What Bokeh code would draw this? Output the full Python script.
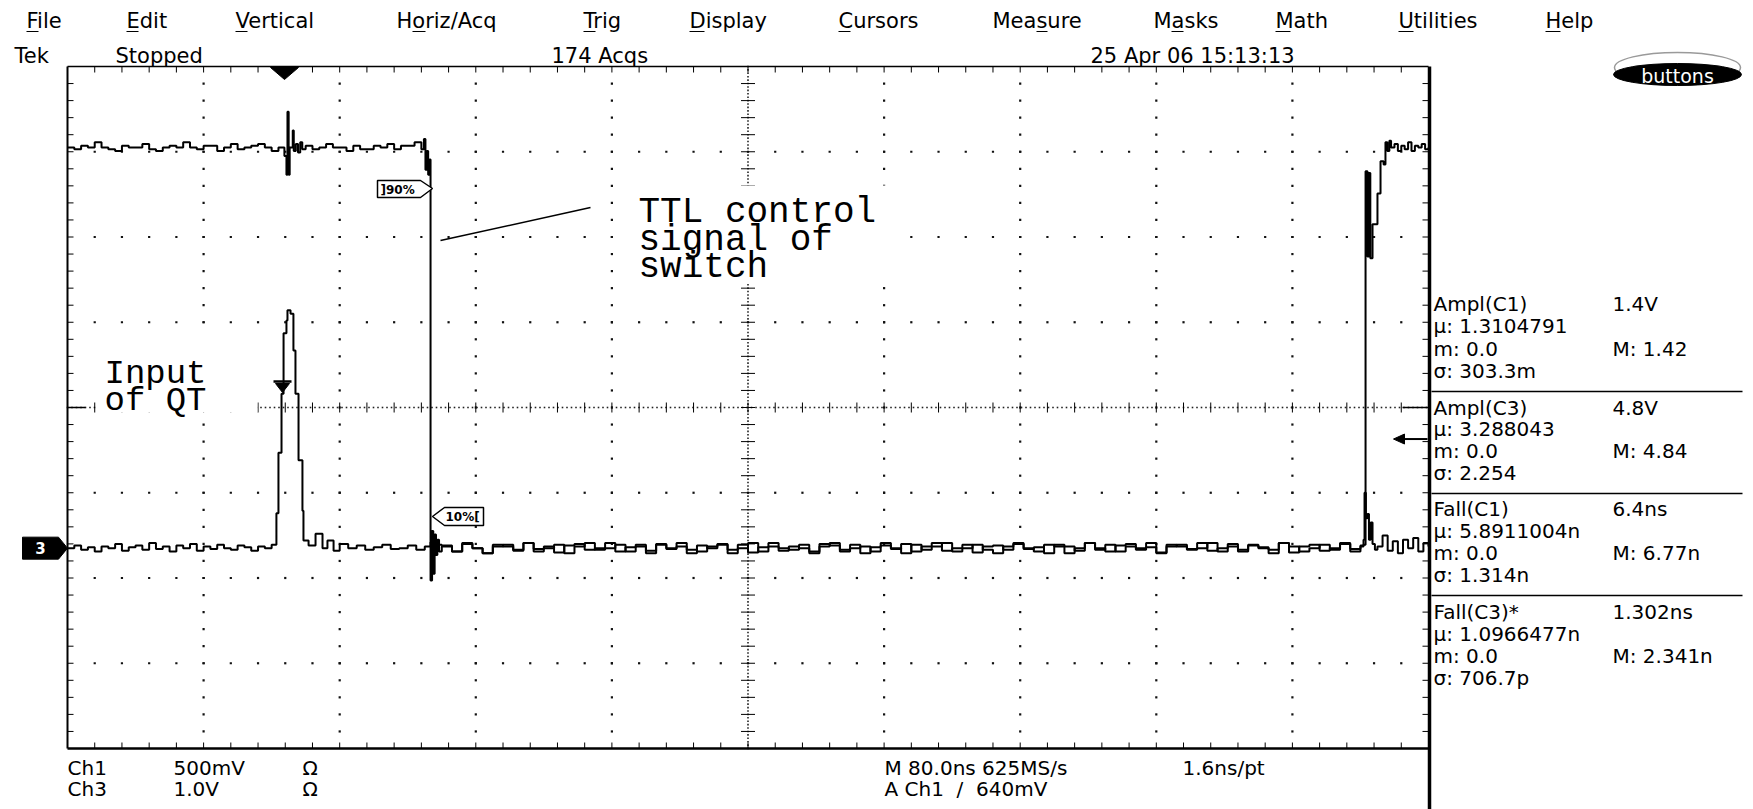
import numpy as np
from bokeh.plotting import figure
from bokeh.models import Range1d
from bokeh.core.properties import value
from bokeh.embed import file_html
from bokeh.resources import INLINE

# ------------------------------------------------------------------ data
NS_PER_DIV = 80.0          # M 80.0ns
CH1_V_PER_DIV = 0.5        # Ch1 500mV
CH3_V_PER_DIV = 1.0        # Ch3 1.0V
CH1_GND_DIV = -1.65        # ground reference positions (divisions from centre)
CH3_GND_DIV = -1.65
TRIG_LEVEL_V = 0.64        # A Ch1 / 640mV

# Ch1 : TTL control signal of switch (volts), pieces sampled on the scope grid
ch1_high1_t0, ch1_high1_dt = 0.0, 4.0
ch1_high1_v = [2.35, 2.34, 2.36, 2.35, 2.38, 2.35, 2.34, 2.33, 2.36, 2.35, 2.35, 2.37,
               2.34, 2.33, 2.35, 2.36, 2.35, 2.38, 2.35, 2.34, 2.36, 2.36, 2.33, 2.35,
               2.37, 2.34, 2.35, 2.36, 2.37, 2.35, 2.33, 2.35]
ch1_spike_t = [127.5, 128.7, 129.3, 130.0, 130.6, 132.4, 133.0, 134.2, 135.5, 136.8, 138.0]
ch1_spike_v = [2.30, 2.19, 2.56, 2.19, 2.35, 2.45, 2.33, 2.37, 2.32, 2.38, 2.34]
ch1_high2_t0, ch1_high2_dt = 140.0, 4.0
ch1_high2_v = [2.36, 2.34, 2.35, 2.37, 2.35, 2.35, 2.33, 2.36, 2.34, 2.34, 2.36, 2.35,
               2.37, 2.34, 2.36, 2.36, 2.38, 2.34]
ch1_fall_t = [209.5, 210.4, 211.2, 212.0, 212.8, 213.4, 214.3, 215.0, 215.8, 216.6, 217.4, 218.4]
ch1_fall_v = [2.40, 2.22, 2.33, 2.19, 2.28, -0.19, 0.10, -0.15, 0.08, -0.04, 0.05, -0.02]
ch1_low_t0, ch1_low_dt = 220.0, 6.0
ch1_low_v = [0.01, -0.02, 0.03, 0.00, -0.03, 0.02, 0.01, -0.01, 0.03, -0.02,
             0.00, 0.02, -0.03, 0.01, 0.03, -0.01, 0.00, 0.02, -0.02, 0.01,
             -0.03, 0.02, 0.00, 0.03, -0.01, -0.02, 0.01, 0.02, -0.03, 0.00,
             0.03, -0.02, 0.01, 0.00, -0.01, 0.02, -0.03, 0.01, 0.03, -0.02,
             0.00, 0.01, -0.02, 0.03, 0.00, -0.03, 0.02, -0.01, 0.01, 0.03,
             -0.02, 0.00, 0.02, -0.01, -0.03, 0.01, 0.03, 0.00, -0.02, 0.02,
             0.01, -0.03, 0.00, 0.03, -0.01, 0.02, -0.02, 0.01, 0.00, 0.03,
             -0.03, 0.01, 0.02, -0.01, 0.00, 0.03, -0.02, 0.01, -0.01, 0.02,
             0.00, -0.03, 0.03, 0.01, -0.02, 0.00, 0.02, -0.01, 0.03, -0.02, 0.01]
ch1_rise_t = [761.8, 763.0, 764.1, 765.0, 765.8, 767.1, 770.0, 771.8, 773.6, 774.7, 775.8, 777.0]
ch1_rise_v = [0.02, 2.21, 1.71, 2.20, 1.70, 1.90, 2.08, 2.27, 2.25, 2.38, 2.33, 2.39]
ch1_high3_t0, ch1_high3_dt = 778.0, 2.0
ch1_high3_v = [2.35, 2.37, 2.33, 2.36, 2.34, 2.38, 2.33, 2.36, 2.35, 2.37, 2.34, 2.35]

# Ch3 : input of QT (volts)
ch3_pre_t0, ch3_pre_dt = 0.0, 4.0
ch3_pre_v = [0.00, 0.03, -0.02, 0.01, -0.04, 0.02, 0.00, 0.05, -0.03, 0.01, 0.03, -0.02,
             0.06, -0.01, 0.02, -0.04, 0.03, 0.00, 0.05, -0.03, 0.02, -0.01, 0.04, 0.00,
             -0.02, 0.03, 0.01, -0.03, 0.02, 0.00, 0.04]
ch3_pulse_t = [122.8, 124.0, 125.8, 127.0, 128.7, 129.3, 131.1, 132.8, 134.0, 135.8, 138.1,
               138.7, 141.7, 145.8, 149.9, 152.8, 156.4]
ch3_pulse_v = [0.41, 1.12, 1.81, 2.52, 2.67, 2.79, 2.75, 2.32, 1.81, 1.03, 0.44,
               0.09, 0.03, 0.17, 0.00, 0.09, -0.03]
ch3_post_t0, ch3_post_dt = 160.0, 5.0
ch3_post_v = [0.05, 0.00, 0.03, -0.02, 0.01, 0.04, -0.01, 0.00, 0.03, -0.02, 0.02]
ch3_edge_t = [213.4, 214.5, 216.0]
ch3_edge_v = [0.07, -0.05, 0.04]
ch3_mid_t0, ch3_mid_dt = 220.0, 6.0
ch3_mid_v = [0.03, -0.04, 0.05, 0.00, -0.06, 0.02, 0.04, -0.03, 0.06, -0.01,
             0.02, -0.05, 0.03, 0.05, -0.02, 0.00, 0.06, -0.04, 0.01, 0.04,
             -0.03, 0.05, -0.01, 0.02, -0.06, 0.03, 0.00, 0.05, -0.02, 0.04,
             -0.05, 0.01, 0.06, -0.03, 0.02, 0.00, -0.04, 0.05, 0.03, -0.02,
             0.04, -0.06, 0.01, 0.03, -0.01, 0.05, -0.04, 0.02, 0.06, -0.03,
             0.00, 0.04, -0.05, 0.02, 0.03, -0.02, 0.05, -0.01, 0.01, -0.06,
             0.04, 0.02, -0.03, 0.06, 0.00, -0.04, 0.03, 0.05, -0.02, 0.01,
             -0.05, 0.04, 0.02, -0.01, 0.06, -0.03, 0.00, 0.05, -0.04, 0.03,
             0.01, -0.02, 0.06, -0.05, 0.02, 0.04, -0.03, 0.00, 0.05, -0.01, 0.03]
ch3_xtalk_t = [761.8, 762.4, 763.2, 764.1, 765.0, 766.0, 767.1, 768.5]
ch3_xtalk_v = [0.10, 0.65, 0.35, 0.40, 0.10, 0.30, 0.05, -0.02]
ch3_tail_t0, ch3_tail_dt = 770.0, 3.0
ch3_tail_v = [0.02, 0.15, -0.03, 0.08, -0.06, 0.10, 0.00, 0.12, -0.04, 0.06, 0.02]

# screen texts
menu_items = ["File", "Edit", "Vertical", "Horiz/Acq", "Trig", "Display", "Cursors",
              "Measure", "Masks", "Math", "Utilities", "Help"]
menu_hot = [0, 0, 0, 1, 0, 0, 0, 4, 1, 0, 0, 0]
status_texts = ["Tek", "Stopped", "174 Acqs", "25 Apr 06 15:13:13"]
meas_rows = [("Ampl(C1)", "1.4V"), ("\u03bc:  1.3104791", ""), ("m: 0.0", "M: 1.42"), ("\u03c3:  303.3m", ""),
             ("Ampl(C3)", "4.8V"), ("\u03bc:  3.288043", ""), ("m: 0.0", "M: 4.84"), ("\u03c3:  2.254", ""),
             ("Fall(C1)", "6.4ns"), ("\u03bc:  5.8911004n", ""), ("m: 0.0", "M: 6.77n"), ("\u03c3:  1.314n", ""),
             ("Fall(C3)*", "1.302ns"), ("\u03bc:  1.0966477n", ""), ("m: 0.0", "M: 2.341n"), ("\u03c3:  706.7p", "")]
bottom_row1 = ["Ch1", "500mV", "\u03a9", "M 80.0ns 625MS/s", "1.6ns/pt"]
bottom_row2 = ["Ch3", "1.0V", "\u03a9", "A Ch1\u00a0\u00a0/\u00a0\u00a0640mV"]


def seg(t0, dt, vals):
    return [t0 + i * dt for i in range(len(vals))]


ch1_t = (seg(ch1_high1_t0, ch1_high1_dt, ch1_high1_v) + ch1_spike_t +
         seg(ch1_high2_t0, ch1_high2_dt, ch1_high2_v) + ch1_fall_t +
         seg(ch1_low_t0, ch1_low_dt, ch1_low_v) + ch1_rise_t +
         seg(ch1_high3_t0, ch1_high3_dt, ch1_high3_v))
ch1_v = (ch1_high1_v + ch1_spike_v + ch1_high2_v + ch1_fall_v + ch1_low_v +
         ch1_rise_v + ch1_high3_v)
ch3_t = (seg(ch3_pre_t0, ch3_pre_dt, ch3_pre_v) + ch3_pulse_t +
         seg(ch3_post_t0, ch3_post_dt, ch3_post_v) + ch3_edge_t +
         seg(ch3_mid_t0, ch3_mid_dt, ch3_mid_v) + ch3_xtalk_t +
         seg(ch3_tail_t0, ch3_tail_dt, ch3_tail_v))
ch3_v = (ch3_pre_v + ch3_pulse_v + ch3_post_v + ch3_edge_v + ch3_mid_v +
         ch3_xtalk_v + ch3_tail_v)

# ------------------------------------------------------------------ layout
W, H = 1753, 809
GX0, GX1, GY0, GY1, GYC = 67.0, 1428.0, 66.0, 748.0, 407.0
PX_NS = (GX1 - GX0) / (10 * NS_PER_DIV)
PX_DIV = (GY1 - GY0) / 8.0


def X(px):
    return (px - GX0) / PX_NS


def Y(py):
    return (GYC - py) / PX_DIV


def dx(px):
    return px / PX_NS


def dy(px):
    return px / PX_DIV


p = figure(width=W, height=H, output_backend="svg", toolbar_location=None,
           x_range=Range1d(X(0), X(W)), y_range=Range1d(Y(H), Y(0)),
           x_axis_location=None, y_axis_location=None, min_border=0)
p.outline_line_color = None
p.grid.visible = False
p.background_fill_color = "white"
p.border_fill_color = "white"

SANS = value("DejaVu Sans")
MONO = value("Liberation Mono")
INK = "black"

# graticule dots
minor_x = [NS_PER_DIV / 5 * j for j in range(1, 50)]
minor_y = [round(-3.8 + 0.2 * i, 3) for i in range(39)]
dxs, dys = [], []
for r in [-3, -2, -1, 1, 2, 3]:
    for mx in minor_x:
        dxs.append(mx); dys.append(r)
for c in [1, 2, 3, 4, 6, 7, 8, 9]:
    for my in minor_y:
        dxs.append(c * NS_PER_DIV); dys.append(my)
p.scatter(dxs, dys, marker="square", size=2.2, color="#111111", line_color=None)

# centre cross (dense dots + ticks)
cx = 5 * NS_PER_DIV
dense_y = [-4 + 0.04 * i for i in range(201)]
dense_x = [dx(4.5) * i for i in range(int(800 / dx(4.5)) + 1)]
p.scatter([cx] * len(dense_y), dense_y, marker="square", size=1.6, color="#222222", line_color=None)
p.scatter(dense_x, [0] * len(dense_x), marker="square", size=1.6, color="#222222", line_color=None)
p.segment(x0=[cx - dx(7)] * len(minor_y), x1=[cx + dx(7)] * len(minor_y), y0=minor_y, y1=minor_y,
          line_color=INK, line_width=1)
p.segment(x0=minor_x, x1=minor_x, y0=[-dy(5)] * len(minor_x), y1=[dy(5)] * len(minor_x),
          line_color=INK, line_width=1)

# edge ticks
p.segment(x0=minor_x, x1=minor_x, y0=[4] * len(minor_x), y1=[4 - dy(6)] * len(minor_x), line_color=INK, line_width=1)
p.segment(x0=minor_x, x1=minor_x, y0=[-4] * len(minor_x), y1=[-4 + dy(6)] * len(minor_x), line_color=INK, line_width=1)
p.segment(x0=[0] * len(minor_y), x1=[dx(6)] * len(minor_y), y0=minor_y, y1=minor_y, line_color=INK, line_width=1)
p.segment(x0=[800] * len(minor_y), x1=[800 - dx(6)] * len(minor_y), y0=minor_y, y1=minor_y, line_color=INK, line_width=1)
p.segment(x0=[0, 800], x1=[dx(18), 800 - dx(26)], y0=[0, 0], y1=[0, 0], line_color=INK, line_width=1.5)

# borders
p.segment(x0=[X(GX0)], x1=[X(GX0)], y0=[Y(GY0)], y1=[Y(GY1)], line_color=INK, line_width=2)
p.segment(x0=[X(GX0)], x1=[X(GX1)], y0=[Y(GY0)], y1=[Y(GY0)], line_color=INK, line_width=1.5)
p.segment(x0=[X(GX0)], x1=[X(GX1)], y0=[Y(GY1)], y1=[Y(GY1)], line_color=INK, line_width=2.5)
p.segment(x0=[X(GX1 + 1)], x1=[X(GX1 + 1)], y0=[Y(GY0)], y1=[Y(H)], line_color=INK, line_width=3.5)

# white label backgrounds
p.quad(left=[X(97), X(636)], right=[X(257), X(895)], top=[Y(333), Y(185)], bottom=[Y(412), Y(283)],
       fill_color="white", line_color=None)


def txt(px, py, s, size="19px", font=SANS, color=INK, align="left", baseline="middle", style="normal"):
    p.text(x=[X(px)], y=[Y(py)], text=[s], text_font=font, text_font_size=size,
           text_color=color, text_align=align, text_baseline=baseline, text_font_style=style)


# menu bar
menu_x = [26, 126, 235, 396, 583, 689, 838, 992, 1153, 1275, 1398, 1545]
for s, mx in zip(menu_items, menu_x):
    txt(mx, 20, s, size="21px")
ul_x0, ul_x1 = [], []
for s, mx, h in zip(menu_items, menu_x, menu_hot):
    if h == 0:
        a, w = 0, (12 if s[0] not in "DMHU" else 15)
    elif h == 1:
        a, w = (16, 13) if s.startswith("H") else (18, 12)
    else:
        a, w = 44, 11
    ul_x0.append(X(mx + a)); ul_x1.append(X(mx + a + w))
p.segment(x0=ul_x0, x1=ul_x1, y0=[Y(31)] * len(ul_x0), y1=[Y(31)] * len(ul_x0), line_color=INK, line_width=1.2)

# status row
for s, sx in zip(status_texts, [14, 115, 551, 1090]):
    txt(sx, 55, s, size="21px")

# buttons pill
p.ellipse(x=[X(1677)], y=[Y(67)], width=[dx(126)], height=[dy(30)], fill_color="white",
          line_color="#9a9a9a", line_width=1.5)
p.ellipse(x=[X(1677)], y=[Y(74)], width=[dx(128)], height=[dy(22)], fill_color="black", line_color="black")
txt(1677, 75, "buttons", size="19px", color="white", align="center")

# measurement panel
row_y = [303, 325, 348, 370, 407, 428, 450, 472, 508, 530, 552, 574, 611, 633, 655, 677]
for (a, b), ry in zip(meas_rows, row_y):
    txt(1433, ry, a, size="20px")
    if b:
        txt(1612, ry, b, size="20px")
p.segment(x0=[X(1431)] * 3, x1=[X(1742)] * 3, y0=[Y(391), Y(493), Y(595)], y1=[Y(391), Y(493), Y(595)],
          line_color=INK, line_width=1.5)

# bottom status
for s, bx in zip(bottom_row1, [67, 173, 302, 884, 1182]):
    txt(bx, 767, s, size="20px")
for s, bx in zip(bottom_row2, [67, 173, 302, 884]):
    txt(bx, 788, s, size="20px")

# annotations
txt(638, 212, "TTL control", size="36px", font=MONO, baseline="alphabetic")
txt(638, 240, "signal of", size="36px", font=MONO, baseline="alphabetic")
txt(638, 267, "switch", size="36px", font=MONO, baseline="alphabetic")
txt(104, 373, "Input", size="34px", font=MONO, baseline="alphabetic")
txt(104, 400, "of QT", size="34px", font=MONO, baseline="alphabetic")
p.line([X(440), X(590)], [Y(240), Y(207)], line_color=INK, line_width=1.5)

# waveforms
ch1_y = [v / CH1_V_PER_DIV + CH1_GND_DIV for v in ch1_v]
ch3_y = [v / CH3_V_PER_DIV + CH3_GND_DIV for v in ch3_v]
p.step(ch3_t, ch3_y, mode="after", line_color=INK, line_width=2)
p.step(ch1_t, ch1_y, mode="after", line_color=INK, line_width=2)

# 90% / 10% flags
p.patch([X(377), X(420), X(432), X(420), X(377)], [Y(180), Y(180), Y(188), Y(197), Y(197)],
        fill_color="white", line_color=INK, line_width=1.5)
txt(380, 189, "]90%", size="12px", style="bold")
p.patch([X(432), X(444), X(483), X(483), X(444)], [Y(516), Y(507), Y(507), Y(525), Y(525)],
        fill_color="white", line_color=INK, line_width=1.5)
txt(445, 516, "10%[", size="12px", style="bold")

# markers: trigger position, trigger level, ground reference, pulse marker
p.patch([X(270), X(298), X(284)], [Y(67), Y(67), Y(79)], fill_color=INK, line_color=INK)
trig_div = TRIG_LEVEL_V / CH1_V_PER_DIV + CH1_GND_DIV
p.segment(x0=[X(1398)], x1=[X(1427)], y0=[trig_div], y1=[trig_div], line_color=INK, line_width=2)
p.patch([X(1393), X(1404), X(1404)], [trig_div, trig_div + dy(5), trig_div - dy(5)], fill_color=INK, line_color=INK)
p.patch([X(22), X(58), X(67), X(58), X(22)],
        [CH3_GND_DIV + dy(11), CH3_GND_DIV + dy(11), CH3_GND_DIV, CH3_GND_DIV - dy(11), CH3_GND_DIV - dy(11)],
        fill_color=INK, line_color=INK)
p.text(x=[X(40)], y=[CH3_GND_DIV], text=["3"], text_font=SANS, text_font_size="15px", text_color="white",
       text_align="center", text_baseline="middle", text_font_style="bold")
p.segment(x0=[X(273)], x1=[X(291)], y0=[Y(381)], y1=[Y(381)], line_color=INK, line_width=2.5)
p.patch([X(275), X(289), X(282)], [Y(383), Y(383), Y(392)], fill_color=INK, line_color=INK)

open("out.html", "w").write(file_html(p, INLINE))
